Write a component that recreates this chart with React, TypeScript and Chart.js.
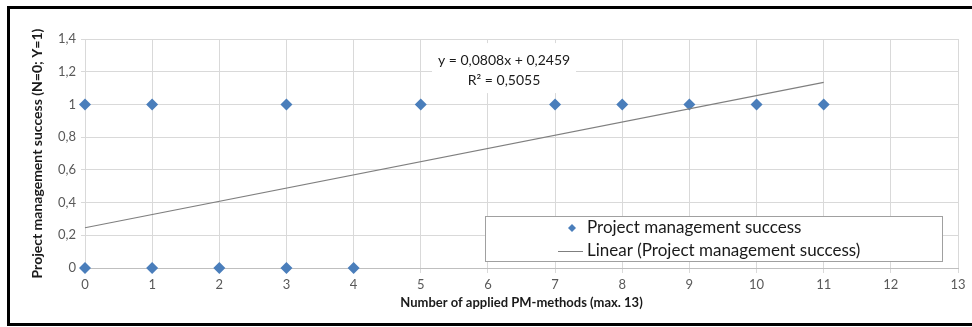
import React, { useEffect, useRef } from 'react';
import { Chart, registerables } from 'chart.js';

Chart.register(...registerables);

// ---- data ----
const pmMethods = [0, 1, 3, 5, 7, 8, 9, 10, 11, 0, 1, 2, 3, 4];
const successFlag = [1, 1, 1, 1, 1, 1, 1, 1, 1, 0, 0, 0, 0, 0];
const trendX = [0, 11];
const trendY = [0.2459, 1.1347];
const equationLines = ['y = 0,0808x + 0,2459', 'R² = 0,5055'];
const seriesLabel = 'Project management success';
const trendLabel = 'Linear (Project management success)';
const xTitle = 'Number of applied PM-methods (max. 13)';
const yTitle = 'Project management success (N=0; Y=1)';

const FONT = 'Lato, "Open Sans", sans-serif';
const BLUE = '#4A7EBB';
const GRID = '#D9D9D9';

const overlayPlugin = {
  id: 'overlay',
  afterDraw(chart: any) {
    const { ctx, chartArea, scales } = chart;
    // equation label
    const ex = scales.x.getPixelForValue(6.24);
    const ey = scales.y.getPixelForValue(1.21);
    ctx.save();
    ctx.fillStyle = '#FFFFFF';
    ctx.fillRect(ex - 72, ey - 27, 144, 50);
    ctx.font = `14px ${FONT}`;
    ctx.fillStyle = '#1a1a1a';
    ctx.textAlign = 'center';
    ctx.textBaseline = 'middle';
    ctx.fillText(equationLines[0], ex, ey - 10);
    ctx.fillText(equationLines[1], ex, ey + 10);
    ctx.restore();

    // legend
    const lx1 = chartArea.right - 15;
    const ly2 = chartArea.bottom - 6;
    const lx0 = lx1 - 458;
    const ly0 = ly2 - 46;
    ctx.save();
    ctx.fillStyle = '#FFFFFF';
    ctx.fillRect(lx0, ly0, lx1 - lx0, ly2 - ly0);
    ctx.strokeStyle = '#A0A0A0';
    ctx.lineWidth = 1;
    ctx.strokeRect(lx0 + 0.5, ly0 + 0.5, lx1 - lx0 - 1, ly2 - ly0 - 1);
    const textX = lx0 + 102;
    const r1 = ly0 + 12;
    const r2 = ly0 + 35;
    // diamond marker
    ctx.fillStyle = BLUE;
    ctx.beginPath();
    const mx = textX - 15;
    ctx.moveTo(mx, r1 - 4);
    ctx.lineTo(mx + 4, r1);
    ctx.lineTo(mx, r1 + 4);
    ctx.lineTo(mx - 4, r1);
    ctx.closePath();
    ctx.fill();
    // line sample
    ctx.strokeStyle = '#7F7F7F';
    ctx.beginPath();
    ctx.moveTo(textX - 29, r2 + 0.5);
    ctx.lineTo(textX - 4, r2 + 0.5);
    ctx.stroke();
    ctx.font = `17px ${FONT}`;
    ctx.fillStyle = '#1a1a1a';
    ctx.textAlign = 'left';
    ctx.textBaseline = 'middle';
    ctx.fillText(seriesLabel, textX, r1);
    ctx.fillText(trendLabel, textX, r2);
    ctx.restore();
  },
};

export default function App() {
  const canvasRef = useRef<HTMLCanvasElement | null>(null);

  useEffect(() => {
    document.body.style.margin = '0';
    const canvas = canvasRef.current;
    if (!canvas) return;
    const chart = new Chart(canvas, {
      type: 'scatter',
      data: {
        datasets: [
          {
            type: 'line',
            label: trendLabel,
            data: trendX.map((x, i) => ({ x, y: trendY[i] })),
            borderColor: '#7F7F7F',
            borderWidth: 1.2,
            pointRadius: 0,
            showLine: true,
            fill: false,
            order: 0,
            clip: false,
          } as any,
          {
            label: seriesLabel,
            data: pmMethods.map((x, i) => ({ x, y: successFlag[i] })),
            backgroundColor: BLUE,
            borderColor: BLUE,
            pointStyle: 'rectRot',
            pointRadius: 6,
            pointHoverRadius: 6,
            borderWidth: 0,
            order: 1,
            clip: false,
          },
        ],
      },
      options: {
        animation: false,
        responsive: false,
        maintainAspectRatio: false,
        layout: { padding: { left: 0, right: 14, top: 39, bottom: 0 } },
        plugins: {
          legend: { display: false },
          tooltip: { enabled: false },
        },
        scales: {
          x: {
            type: 'linear',
            min: 0,
            max: 13,
            ticks: {
              stepSize: 1,
              color: '#595959',
              font: { family: FONT, size: 13 },
              padding: 4,
            },
            grid: { color: GRID, tickLength: 5, tickColor: GRID },
            border: { color: '#BFBFBF' },
            title: {
              display: true,
              text: xTitle,
              color: '#1a1a1a',
              font: { family: FONT, size: 13, weight: 'bold' },
              padding: { top: 0, bottom: 16 },
            },
            afterFit: (s: any) => {
              s.height = 59;
            },
          },
          y: {
            type: 'linear',
            min: 0,
            max: 1.4,
            ticks: {
              stepSize: 0.2,
              color: '#595959',
              font: { family: FONT, size: 13 },
              padding: 5,
              callback: (v: any) => String(Math.round(Number(v) * 10) / 10).replace('.', ','),
            },
            grid: { color: GRID, tickLength: 4, tickColor: GRID },
            border: { color: GRID },
            title: {
              display: true,
              text: yTitle,
              color: '#1a1a1a',
              font: { family: FONT, size: 14, weight: 'bold' },
              padding: { top: 29, bottom: 0 },
            },
            afterFit: (s: any) => {
              s.width = 85;
            },
          },
        },
      },
      plugins: [overlayPlugin],
    });
    return () => chart.destroy();
  }, []);

  return (
    <div style={{ position: 'relative', width: 972, height: 327, overflow: 'hidden', background: '#fff' }}>
      <canvas ref={canvasRef} width={972} height={327} style={{ display: 'block' }} />
      <div
        style={{
          position: 'absolute',
          left: 7,
          top: 6,
          width: 1000,
          height: 320,
          boxSizing: 'border-box',
          borderLeft: '3px solid #000',
          borderTop: '3px solid #000',
          borderBottom: '3px solid #000',
          pointerEvents: 'none',
        }}
      />
    </div>
  );
}
